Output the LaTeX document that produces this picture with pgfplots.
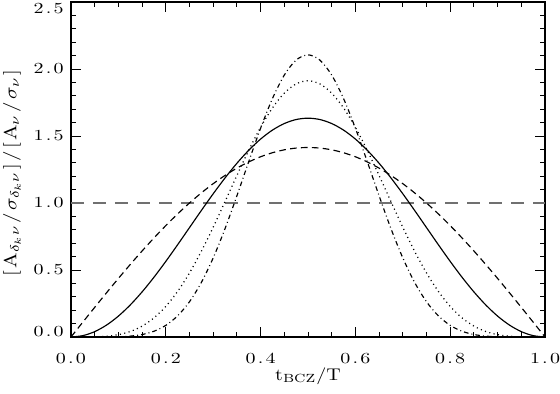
\documentclass[border=0pt]{standalone}
\usepackage{pgfplots}
\pgfplotsset{compat=1.18}
\usetikzlibrary{calc}
\usepackage{graphicx}
\definecolor{lgray}{RGB}{112,112,112}

% tick labels: wide, loosely spaced digits like the reference
\newcommand{\xtl}[1]{\scalebox{1.3}[1]{$\pgfmathprintnumber[fixed,fixed zerofill,precision=1,set decimal separator={\mkern2mu{.}\mkern2mu}]{#1}$}}
\newcommand{\ytl}[1]{\ifcase\ticknum\relax
  \raisebox{3.25pt}[\height][\depth]{\xtl{#1}}%
  \or\xtl{#1}\or\xtl{#1}\or\xtl{#1}\or\xtl{#1}%
  \or\raisebox{-4.5pt}[\height][\depth]{\xtl{#1}}%
  \else\xtl{#1}\fi}

\begin{document}
\begin{tikzpicture}
\begin{axis}[
    scale only axis,
    width=308.1pt, height=217.75pt,
    xmin=0, xmax=1, ymin=0, ymax=2.5,
    xtick={0,0.2,0.4,0.6,0.8,1},
    ytick={0,0.5,1,1.5,2,2.5},
    minor x tick num=3, minor y tick num=4,
    tick align=inside, xtick pos=both, ytick pos=both,
    major tick length=6.5pt, minor tick length=3.25pt,
    axis line style={line width=0.7pt},
    tick style={black, line width=0.6pt},
    xticklabel={\xtl{\tick}},
    yticklabel={\ytl{\tick}},
    xticklabel style={yshift=-7pt},
    yticklabel style={xshift=-1.2pt},
    xlabel={\scalebox{1.3}[1.1]{$\mathrm{t}_{\mathrm{BCZ}}/\mathrm{T}$}},
    ylabel={\scalebox{1.35}[1.15]{$[\mkern2mu\mathrm{A}_{\delta_k\nu}\mkern2mu/\mkern2mu\sigma_{\delta_k\nu}\mkern2mu]\mkern2mu/\mkern2mu[\mkern2mu\mathrm{A}_{\nu}\mkern2mu/\mkern2mu\sigma_{\nu}\mkern2mu]$}},
    xlabel style={at={(axis description cs:0.5,-0.1167)}, anchor=center},
    ylabel style={at={(axis description cs:-0.1246,0.49)}, anchor=center},
]

% reference level
\addplot[lgray, line width=1.1pt, dash pattern=on 8.5pt off 5.8pt] coordinates {(0,1) (1,1)};

% dashed
\addplot[black, line width=0.75pt, smooth, dash pattern=on 4.3pt off 2.8pt] coordinates {
 (0,0) (0.025,0.1110) (0.05,0.2212) (0.075,0.3301) (0.1,0.4370) (0.125,0.5412)
 (0.15,0.6420) (0.175,0.7389) (0.2,0.8313) (0.225,0.9185) (0.25,1.0000)
 (0.275,1.0754) (0.3,1.1441) (0.325,1.2058) (0.35,1.2601) (0.375,1.3066)
 (0.4,1.3450) (0.425,1.3751) (0.45,1.3968) (0.475,1.4098) (0.5,1.4142)
 (0.525,1.4098) (0.55,1.3968) (0.575,1.3751) (0.6,1.3450) (0.625,1.3066)
 (0.65,1.2601) (0.675,1.2058) (0.7,1.1441) (0.725,1.0754) (0.75,1.0000)
 (0.775,0.9185) (0.8,0.8313) (0.825,0.7389) (0.85,0.6420) (0.875,0.5412)
 (0.9,0.4370) (0.925,0.3301) (0.95,0.2212) (0.975,0.1110) (1,0)
};

% solid
\addplot[black, line width=0.75pt, smooth] coordinates {
 (0,0) (0.025,0.0101) (0.05,0.0400) (0.075,0.0890) (0.1,0.1559) (0.125,0.2392)
 (0.15,0.3366) (0.175,0.4458) (0.2,0.5642) (0.225,0.6888) (0.25,0.8165)
 (0.275,0.9442) (0.3,1.0688) (0.325,1.1872) (0.35,1.2964) (0.375,1.3939)
 (0.4,1.4771) (0.425,1.5440) (0.45,1.5930) (0.475,1.6229) (0.5,1.6330)
 (0.525,1.6229) (0.55,1.5930) (0.575,1.5440) (0.6,1.4771) (0.625,1.3939)
 (0.65,1.2964) (0.675,1.1872) (0.7,1.0688) (0.725,0.9442) (0.75,0.8165)
 (0.775,0.6888) (0.8,0.5642) (0.825,0.4458) (0.85,0.3366) (0.875,0.2392)
 (0.9,0.1559) (0.925,0.0890) (0.95,0.0400) (0.975,0.0101) (1,0)
};

% dotted
\addplot[black, line width=0.8pt, smooth, dash pattern=on 0.7pt off 2.2pt] coordinates {
 (0,0) (0.025,0.0001) (0.05,0.0011) (0.075,0.0057) (0.1,0.0174) (0.125,0.0410)
 (0.15,0.0812) (0.175,0.1425) (0.2,0.2283) (0.225,0.3402) (0.25,0.4781)
 (0.275,0.6394) (0.3,0.8192) (0.325,1.0107) (0.35,1.2053) (0.375,1.3933)
 (0.4,1.5646) (0.425,1.7096) (0.45,1.8199) (0.475,1.8889) (0.5,1.9124)
 (0.525,1.8889) (0.55,1.8199) (0.575,1.7096) (0.6,1.5646) (0.625,1.3933)
 (0.65,1.2053) (0.675,1.0107) (0.7,0.8192) (0.725,0.6394) (0.75,0.4781)
 (0.775,0.3402) (0.8,0.2283) (0.825,0.1425) (0.85,0.0812) (0.875,0.0410)
 (0.9,0.0174) (0.925,0.0057) (0.95,0.0011) (0.975,0.0001) (1,0)
};

% dash-dot
\addplot[black, line width=0.75pt, smooth, dash pattern=on 3pt off 2pt on 0.6pt off 2pt] coordinates {
 (0,0) (0.025,0.0000) (0.05,0.0000) (0.075,0.0003) (0.1,0.0018) (0.125,0.0066)
 (0.15,0.0184) (0.175,0.0428) (0.2,0.0868) (0.225,0.1580) (0.25,0.2632)
 (0.275,0.4070) (0.3,0.5903) (0.325,0.8090) (0.35,1.0535) (0.375,1.3093)
 (0.4,1.5581) (0.425,1.7796) (0.45,1.9546) (0.475,2.0668) (0.5,2.1055)
 (0.525,2.0668) (0.55,1.9546) (0.575,1.7796) (0.6,1.5581) (0.625,1.3093)
 (0.65,1.0535) (0.675,0.8090) (0.7,0.5903) (0.725,0.4070) (0.75,0.2632)
 (0.775,0.1580) (0.8,0.0868) (0.825,0.0428) (0.85,0.0184) (0.875,0.0066)
 (0.9,0.0018) (0.925,0.0003) (0.95,0.0000) (0.975,0.0000) (1,0)
};

\coordinate (sw) at (rel axis cs:0,0);
\coordinate (ne) at (rel axis cs:1,1);
\end{axis}
\pgfresetboundingbox
\path[use as bounding box] ($(sw)+(-46.15pt,-37.05pt)$) rectangle ($(ne)+(9.75pt,1.3pt)$);
\end{tikzpicture}
\end{document}
